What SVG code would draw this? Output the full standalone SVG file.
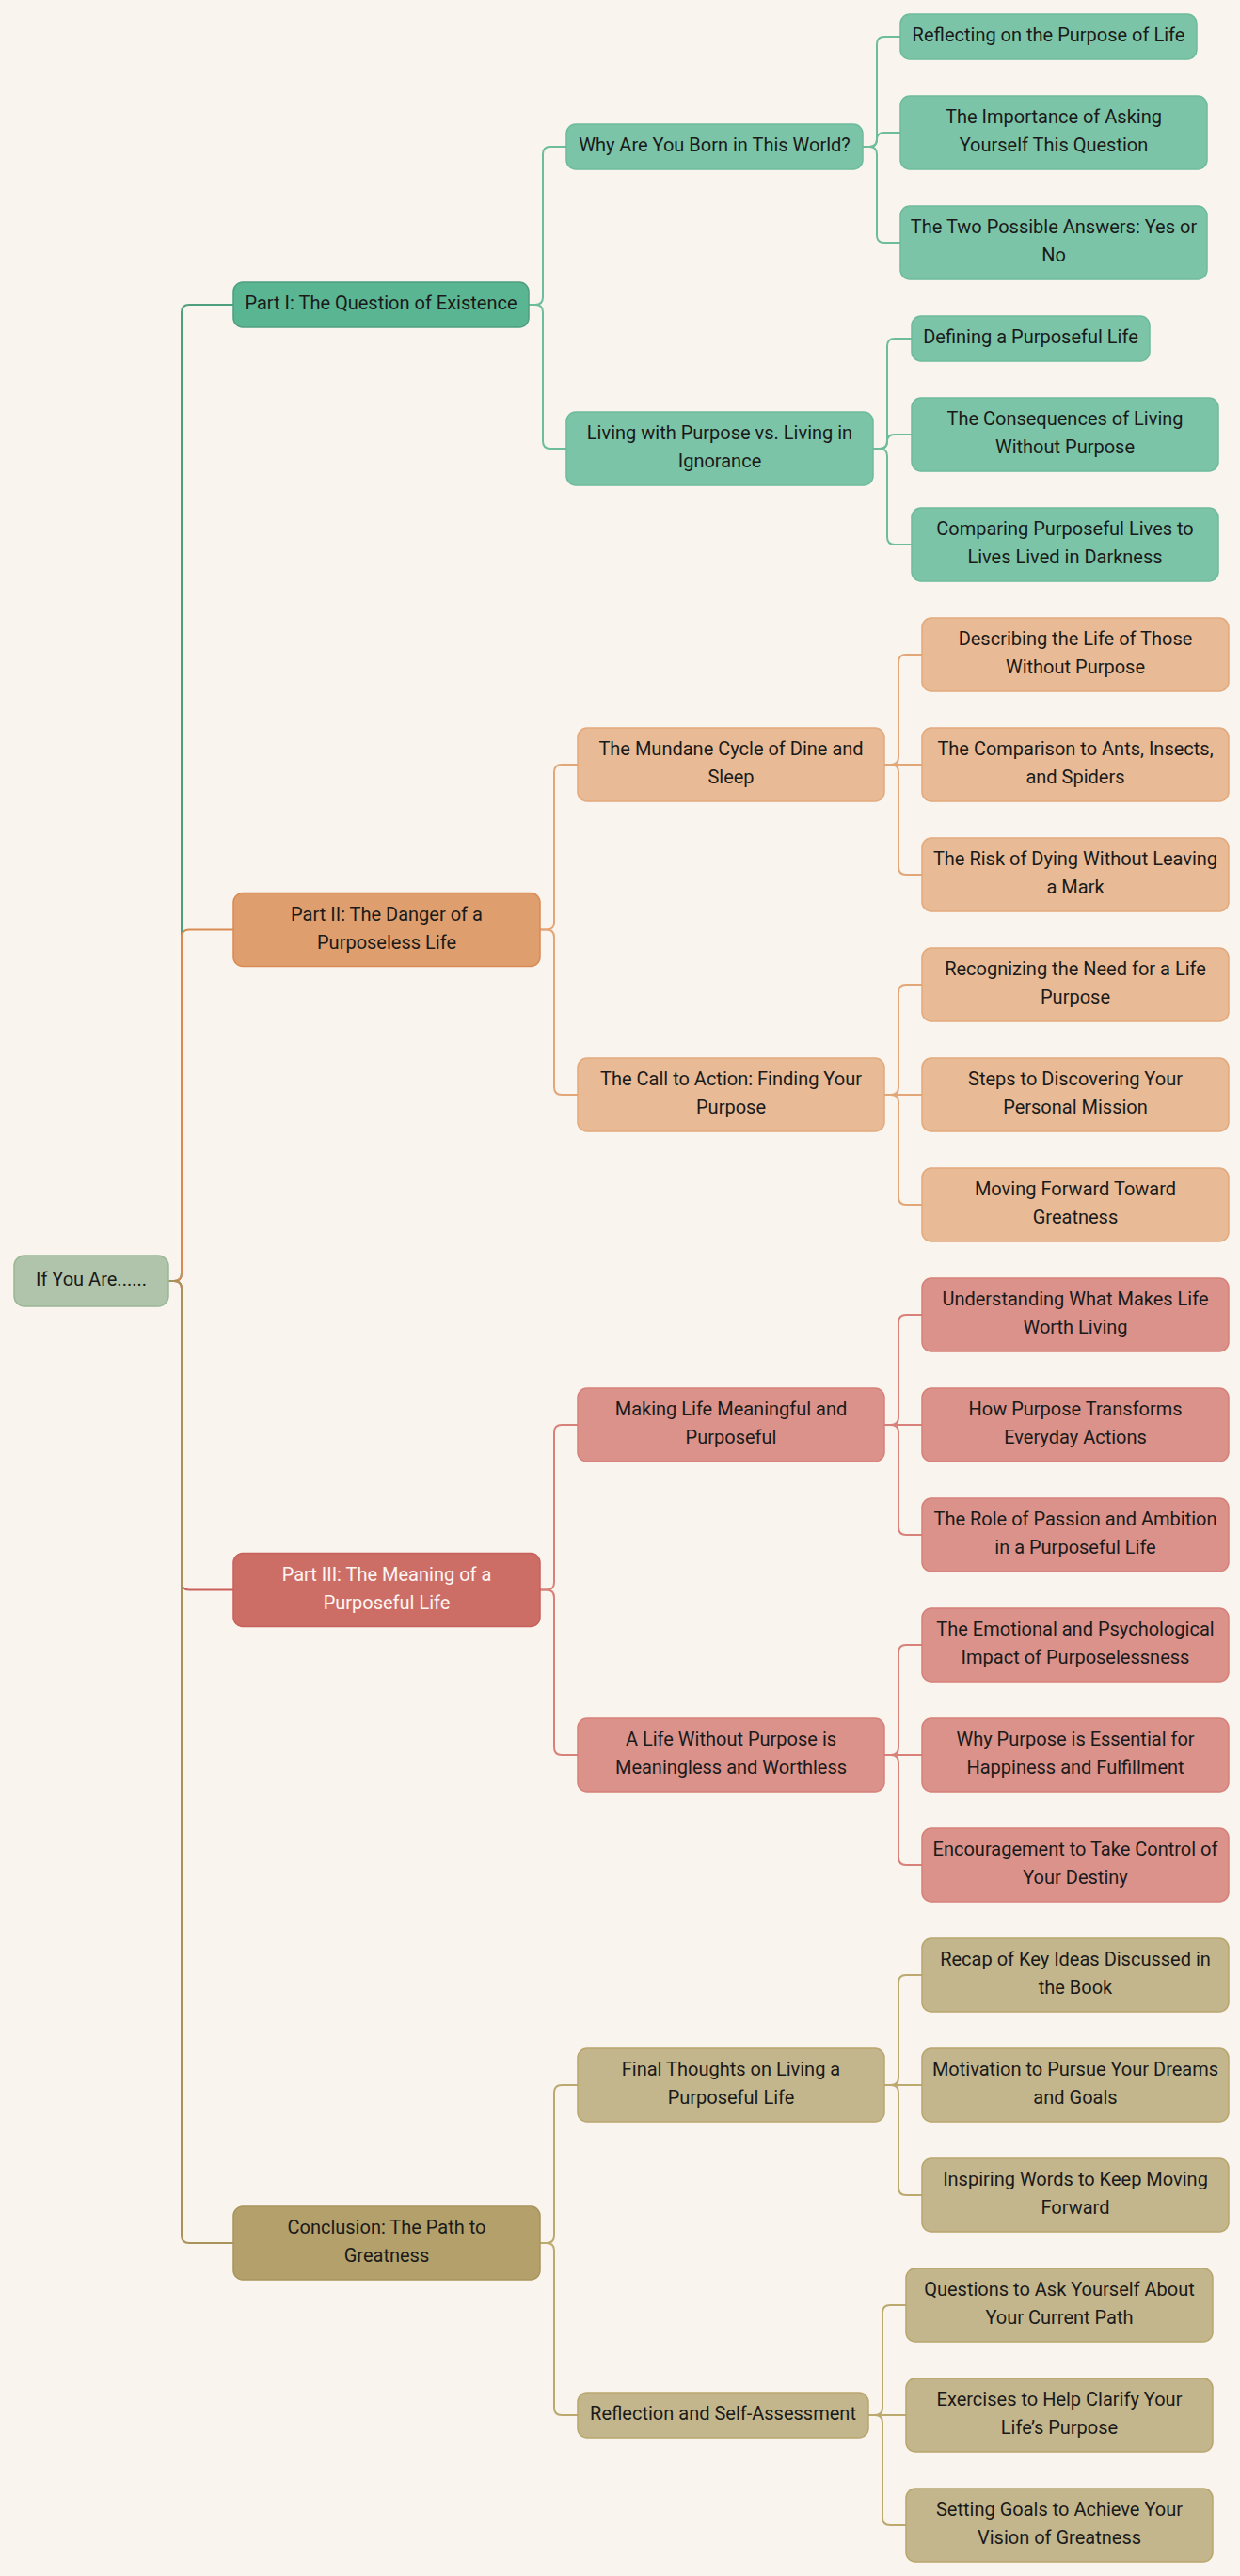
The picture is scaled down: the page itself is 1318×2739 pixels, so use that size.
<svg xmlns="http://www.w3.org/2000/svg" width="1318" height="2739" viewBox="0 0 1318 2739">
<style>
text{font-family:Roboto,"Liberation Sans",sans-serif;font-size:20px;fill:#1a1a1a;text-anchor:middle}
.n rect{stroke-width:1.5}
.root rect{fill:#afc4ab;stroke:#9bb695}
.g1 rect{fill:#5ab592;stroke:#4d9f80}
.g2 rect{fill:#7bc4a8;stroke:#6ebb9c}
.o1 rect{fill:#df9e6d;stroke:#d98b55}
.o2 rect{fill:#e8ba95;stroke:#e2a97c}
.r1 rect{fill:#cd6e66;stroke:#c8605a}
.r1 text{fill:#fdf5f2}
.r2 rect{fill:#da928a;stroke:#d6807a}
.y1 rect{fill:#b3a06a;stroke:#a8955c}
.y2 rect{fill:#c4b68c;stroke:#b9a66f}
#connectors path{fill:none;stroke-width:2}
.cg1{stroke:#4e9f80}.cg2{stroke:#6dbd9c}
.co1{stroke:#d98b55}.co2{stroke:#e3a679}
.cr1{stroke:#c9605a}.cr2{stroke:#d8817a}
.cy1{stroke:#a8945a}.cy2{stroke:#bca96f}
</style>
<rect x="0" y="0" width="1318" height="2739" fill="#f9f5ee"/>
<g id="connectors">
<path class="cg1" d="M179,1362 H185 Q193,1362 193,1354 V332 Q193,324 201,324 H248"/>
<path class="co1" d="M179,1362 H185 Q193,1362 193,1354 V996.5 Q193,988.5 201,988.5 H248"/>
<path class="cr1" d="M179,1362 H185 Q193,1362 193,1370 V1682.5 Q193,1690.5 201,1690.5 H248"/>
<path class="cy1" d="M179,1362 H185 Q193,1362 193,1370 V2377 Q193,2385 201,2385 H248"/>
<path class="cg2" d="M562,324 H569 Q577,324 577,316 V164 Q577,156 585,156 H602"/>
<path class="cg2" d="M562,324 H569 Q577,324 577,332 V469 Q577,477 585,477 H602"/>
<path class="cg2" d="M917,156 H924 Q932,156 932,148 V47 Q932,39 940,39 H957"/>
<path class="cg2" d="M917,156 H924.5 Q932,156 932,148.5 Q932,141 939.5,141 H957"/>
<path class="cg2" d="M917,156 H924 Q932,156 932,164 V250 Q932,258 940,258 H957"/>
<path class="cg2" d="M928,477 H935 Q943,477 943,469 V368 Q943,360 951,360 H969"/>
<path class="cg2" d="M928,477 H935.5 Q943,477 943,469.5 Q943,462 950.5,462 H969"/>
<path class="cg2" d="M928,477 H935 Q943,477 943,485 V571 Q943,579 951,579 H969"/>
<path class="co2" d="M574,988.5 H581 Q589,988.5 589,980.5 V821 Q589,813 597,813 H614"/>
<path class="co2" d="M574,988.5 H581 Q589,988.5 589,996.5 V1156 Q589,1164 597,1164 H614"/>
<path class="co2" d="M940,813 H947 Q955,813 955,805 V704 Q955,696 963,696 H980"/>
<path class="co2" d="M940,813 H980"/>
<path class="co2" d="M940,813 H947 Q955,813 955,821 V922 Q955,930 963,930 H980"/>
<path class="co2" d="M940,1164 H947 Q955,1164 955,1156 V1055 Q955,1047 963,1047 H980"/>
<path class="co2" d="M940,1164 H980"/>
<path class="co2" d="M940,1164 H947 Q955,1164 955,1172 V1273 Q955,1281 963,1281 H980"/>
<path class="cr2" d="M574,1690.5 H581 Q589,1690.5 589,1682.5 V1523 Q589,1515 597,1515 H614"/>
<path class="cr2" d="M574,1690.5 H581 Q589,1690.5 589,1698.5 V1858 Q589,1866 597,1866 H614"/>
<path class="cr2" d="M940,1515 H947 Q955,1515 955,1507 V1406 Q955,1398 963,1398 H980"/>
<path class="cr2" d="M940,1515 H980"/>
<path class="cr2" d="M940,1515 H947 Q955,1515 955,1523 V1624 Q955,1632 963,1632 H980"/>
<path class="cr2" d="M940,1866 H947 Q955,1866 955,1858 V1757 Q955,1749 963,1749 H980"/>
<path class="cr2" d="M940,1866 H980"/>
<path class="cr2" d="M940,1866 H947 Q955,1866 955,1874 V1975 Q955,1983 963,1983 H980"/>
<path class="cy2" d="M574,2385 H581 Q589,2385 589,2377 V2225 Q589,2217 597,2217 H614"/>
<path class="cy2" d="M574,2385 H581 Q589,2385 589,2393 V2560 Q589,2568 597,2568 H614"/>
<path class="cy2" d="M940,2217 H947 Q955,2217 955,2209 V2108 Q955,2100 963,2100 H980"/>
<path class="cy2" d="M940,2217 H980"/>
<path class="cy2" d="M940,2217 H947 Q955,2217 955,2225 V2326 Q955,2334 963,2334 H980"/>
<path class="cy2" d="M923,2568 H930 Q938,2568 938,2560 V2459 Q938,2451 946,2451 H963"/>
<path class="cy2" d="M923,2568 H963"/>
<path class="cy2" d="M923,2568 H930 Q938,2568 938,2576 V2677 Q938,2685 946,2685 H963"/>
</g>
<g id="root" class="n root"><rect x="15" y="1335" width="164" height="54" rx="11"/><text x="97" y="1367">If You Are......</text></g>
<g id="part1" class="n g1"><rect x="248" y="300" width="314" height="48" rx="10"/><text x="405" y="329">Part I: The Question of Existence</text></g>
<g id="why-born" class="n g2"><rect x="602" y="132" width="315" height="48" rx="10"/><text x="759.5" y="161">Why Are You Born in This World?</text></g>
<g id="reflecting" class="n g2"><rect x="957" y="15" width="315" height="48" rx="10"/><text x="1114.5" y="44">Reflecting on the Purpose of Life</text></g>
<g id="importance" class="n g2"><rect x="957" y="102" width="326" height="78" rx="10"/><text x="1120" y="131">The Importance of Asking</text><text x="1120" y="161">Yourself This Question</text></g>
<g id="two-answers" class="n g2"><rect x="957" y="219" width="326" height="78" rx="10"/><text x="1120" y="248">The Two Possible Answers: Yes or</text><text x="1120" y="278">No</text></g>
<g id="living" class="n g2"><rect x="602" y="438" width="326" height="78" rx="10"/><text x="765" y="467">Living with Purpose vs. Living in</text><text x="765" y="497">Ignorance</text></g>
<g id="defining" class="n g2"><rect x="969" y="336" width="253" height="48" rx="10"/><text x="1095.5" y="365">Defining a Purposeful Life</text></g>
<g id="consequences" class="n g2"><rect x="969" y="423" width="326" height="78" rx="10"/><text x="1132" y="452">The Consequences of Living</text><text x="1132" y="482">Without Purpose</text></g>
<g id="comparing" class="n g2"><rect x="969" y="540" width="326" height="78" rx="10"/><text x="1132" y="569">Comparing Purposeful Lives to</text><text x="1132" y="599">Lives Lived in Darkness</text></g>
<g id="part2" class="n o1"><rect x="248" y="949.5" width="326" height="78" rx="10"/><text x="411" y="978.5">Part II: The Danger of a</text><text x="411" y="1008.5">Purposeless Life</text></g>
<g id="mundane" class="n o2"><rect x="614" y="774" width="326" height="78" rx="10"/><text x="777" y="803">The Mundane Cycle of Dine and</text><text x="777" y="833">Sleep</text></g>
<g id="describing" class="n o2"><rect x="980" y="657" width="326" height="78" rx="10"/><text x="1143" y="686">Describing the Life of Those</text><text x="1143" y="716">Without Purpose</text></g>
<g id="comparison" class="n o2"><rect x="980" y="774" width="326" height="78" rx="10"/><text x="1143" y="803">The Comparison to Ants, Insects,</text><text x="1143" y="833">and Spiders</text></g>
<g id="risk" class="n o2"><rect x="980" y="891" width="326" height="78" rx="10"/><text x="1143" y="920">The Risk of Dying Without Leaving</text><text x="1143" y="950">a Mark</text></g>
<g id="call" class="n o2"><rect x="614" y="1125" width="326" height="78" rx="10"/><text x="777" y="1154">The Call to Action: Finding Your</text><text x="777" y="1184">Purpose</text></g>
<g id="recognizing" class="n o2"><rect x="980" y="1008" width="326" height="78" rx="10"/><text x="1143" y="1037">Recognizing the Need for a Life</text><text x="1143" y="1067">Purpose</text></g>
<g id="steps" class="n o2"><rect x="980" y="1125" width="326" height="78" rx="10"/><text x="1143" y="1154">Steps to Discovering Your</text><text x="1143" y="1184">Personal Mission</text></g>
<g id="moving" class="n o2"><rect x="980" y="1242" width="326" height="78" rx="10"/><text x="1143" y="1271">Moving Forward Toward</text><text x="1143" y="1301">Greatness</text></g>
<g id="part3" class="n r1"><rect x="248" y="1651.5" width="326" height="78" rx="10"/><text x="411" y="1680.5">Part III: The Meaning of a</text><text x="411" y="1710.5">Purposeful Life</text></g>
<g id="making" class="n r2"><rect x="614" y="1476" width="326" height="78" rx="10"/><text x="777" y="1505">Making Life Meaningful and</text><text x="777" y="1535">Purposeful</text></g>
<g id="understanding" class="n r2"><rect x="980" y="1359" width="326" height="78" rx="10"/><text x="1143" y="1388">Understanding What Makes Life</text><text x="1143" y="1418">Worth Living</text></g>
<g id="transforms" class="n r2"><rect x="980" y="1476" width="326" height="78" rx="10"/><text x="1143" y="1505">How Purpose Transforms</text><text x="1143" y="1535">Everyday Actions</text></g>
<g id="role" class="n r2"><rect x="980" y="1593" width="326" height="78" rx="10"/><text x="1143" y="1622">The Role of Passion and Ambition</text><text x="1143" y="1652">in a Purposeful Life</text></g>
<g id="life-without" class="n r2"><rect x="614" y="1827" width="326" height="78" rx="10"/><text x="777" y="1856">A Life Without Purpose is</text><text x="777" y="1886">Meaningless and Worthless</text></g>
<g id="emotional" class="n r2"><rect x="980" y="1710" width="326" height="78" rx="10"/><text x="1143" y="1739">The Emotional and Psychological</text><text x="1143" y="1769">Impact of Purposelessness</text></g>
<g id="essential" class="n r2"><rect x="980" y="1827" width="326" height="78" rx="10"/><text x="1143" y="1856">Why Purpose is Essential for</text><text x="1143" y="1886">Happiness and Fulfillment</text></g>
<g id="encouragement" class="n r2"><rect x="980" y="1944" width="326" height="78" rx="10"/><text x="1143" y="1973">Encouragement to Take Control of</text><text x="1143" y="2003">Your Destiny</text></g>
<g id="conclusion" class="n y1"><rect x="248" y="2346" width="326" height="78" rx="10"/><text x="411" y="2375">Conclusion: The Path to</text><text x="411" y="2405">Greatness</text></g>
<g id="final" class="n y2"><rect x="614" y="2178" width="326" height="78" rx="10"/><text x="777" y="2207">Final Thoughts on Living a</text><text x="777" y="2237">Purposeful Life</text></g>
<g id="recap" class="n y2"><rect x="980" y="2061" width="326" height="78" rx="10"/><text x="1143" y="2090">Recap of Key Ideas Discussed in</text><text x="1143" y="2120">the Book</text></g>
<g id="motivation" class="n y2"><rect x="980" y="2178" width="326" height="78" rx="10"/><text x="1143" y="2207">Motivation to Pursue Your Dreams</text><text x="1143" y="2237">and Goals</text></g>
<g id="inspiring" class="n y2"><rect x="980" y="2295" width="326" height="78" rx="10"/><text x="1143" y="2324">Inspiring Words to Keep Moving</text><text x="1143" y="2354">Forward</text></g>
<g id="reflection" class="n y2"><rect x="614" y="2544" width="309" height="48" rx="10"/><text x="768.5" y="2573">Reflection and Self-Assessment</text></g>
<g id="questions" class="n y2"><rect x="963" y="2412" width="326" height="78" rx="10"/><text x="1126" y="2441">Questions to Ask Yourself About</text><text x="1126" y="2471">Your Current Path</text></g>
<g id="exercises" class="n y2"><rect x="963" y="2529" width="326" height="78" rx="10"/><text x="1126" y="2558">Exercises to Help Clarify Your</text><text x="1126" y="2588">Life’s Purpose</text></g>
<g id="goals" class="n y2"><rect x="963" y="2646" width="326" height="78" rx="10"/><text x="1126" y="2675">Setting Goals to Achieve Your</text><text x="1126" y="2705">Vision of Greatness</text></g>
</svg>
